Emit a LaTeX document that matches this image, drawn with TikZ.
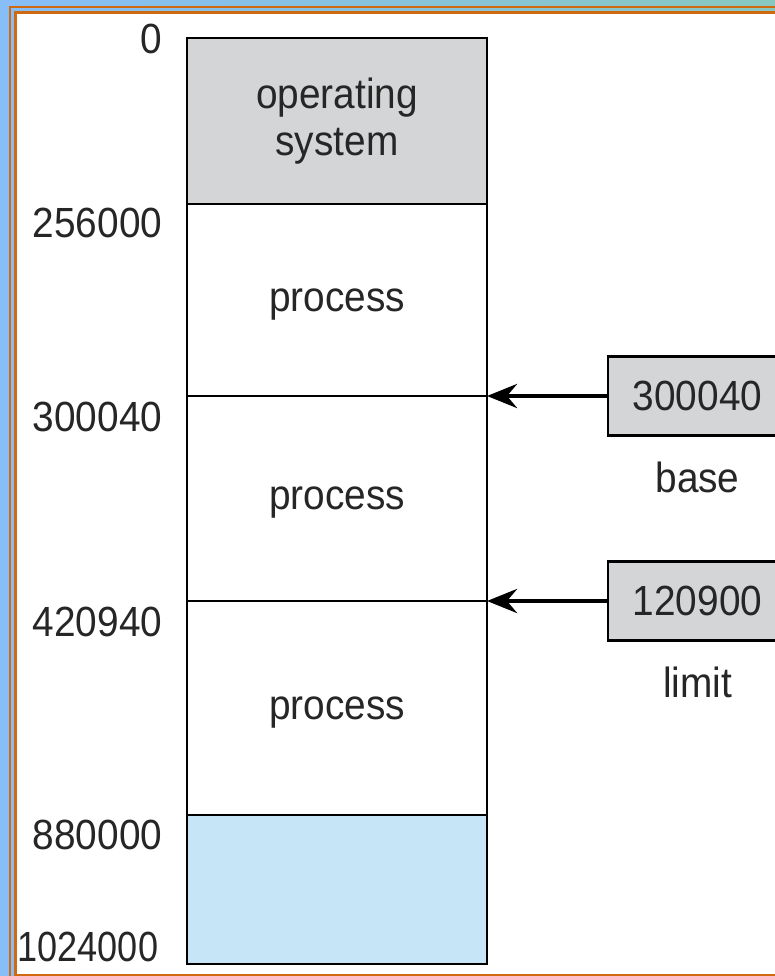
\documentclass[tikz,border=0pt]{standalone}
\usepackage{fontspec}
\setmainfont{Liberation Sans}[FakeStretch=0.92]
\usetikzlibrary{arrows.meta, positioning}
\definecolor{slideblue}{RGB}{135,190,248}
\definecolor{slideteal}{RGB}{136,200,192}
\definecolor{frameorange}{RGB}{208,106,16}
\definecolor{osgray}{RGB}{212,213,215}
\definecolor{holeblue}{RGB}{198,230,248}

\begin{document}
\begin{tikzpicture}[
    every node/.style={font=\fontsize{12pt}{13.4pt}\selectfont, text=black!85},
    seg/.style={rectangle, draw, line width=0.5pt, minimum width=3cm, inner sep=0pt, outer sep=0pt, align=center},
    procseg/.style={seg, text depth=0pt},
    addr/.style={anchor=east, inner sep=0pt},
    reg/.style={rectangle, draw, line width=0.6pt, fill=osgray, minimum width=1.79cm, minimum height=0.79cm, outer sep=0pt},
    ptr/.style={line width=1.3pt, -{Stealth[length=3mm, width=2.4mm, inset=1mm]}},
    frame/.style={frameorange, line width=0.7pt}
  ]
    % Slide frame
    \useasboundingbox (0,0) rectangle (7.75,-9.76);
    \clip (0,0) rectangle (7.75,-9.76);
    \shade[left color=slideblue, right color=slideteal] (0,0) rectangle (7.75,-9.76);
    \fill[white] (0.16,-0.14) rectangle (7.75,-9.74);
    \draw[frame] (7.75,-0.07) -- (0.10,-0.07) -- (0.10,-9.76);
    \draw[frame] (7.75,-0.125) -- (0.155,-0.125) -- (0.155,-9.75) -- (7.75,-9.75);
    % Memory column
    \node[seg, fill=osgray, minimum height=1.66cm] (os) at (3.37,-1.21) {operating\\system};
    \node[procseg, minimum height=1.92cm, below=0pt of os] (proc1) {process};
    \node[procseg, minimum height=2.05cm, below=0pt of proc1] (proc2) {process};
    \node[procseg, minimum height=2.14cm, below=0pt of proc2] (proc3) {process};
    \node[seg, fill=holeblue, minimum height=1.49cm, below=0pt of proc3] (hole) {};
    \draw[line width=0.8pt] (os.north west) rectangle (hole.south east);
    % Addresses
    \node[addr] (a0) at ([xshift=-0.24cm, yshift=-0.01cm]os.north west) {0};
    \node[addr] (a1) at ([xshift=-0.24cm, yshift=-0.19cm]os.south west) {256000};
    \node[addr] (a2) at ([xshift=-0.24cm, yshift=-0.21cm]proc1.south west) {300040};
    \node[addr] (a3) at ([xshift=-0.24cm, yshift=-0.21cm]proc2.south west) {420940};
    \node[addr] (a4) at ([xshift=-0.24cm, yshift=-0.20cm]proc3.south west) {880000};
    \node[addr, anchor=west, xscale=0.93, transform shape] (a5) at (0.17,-9.47) {1024000};
    % Registers
    \node[reg, right=1.21cm of proc1.south east] (basereg) {300040};
    \node[reg, right=1.21cm of proc2.south east] (limitreg) {120900};
    \node[below=0.14cm of basereg] (baselbl) {base};
    \node[below=0.14cm of limitreg] (limitlbl) {limit};
    % Pointers
    \draw[ptr] (basereg.west) -- (proc1.south east);
    \draw[ptr] (limitreg.west) -- (proc2.south east);
\end{tikzpicture}
\end{document}
